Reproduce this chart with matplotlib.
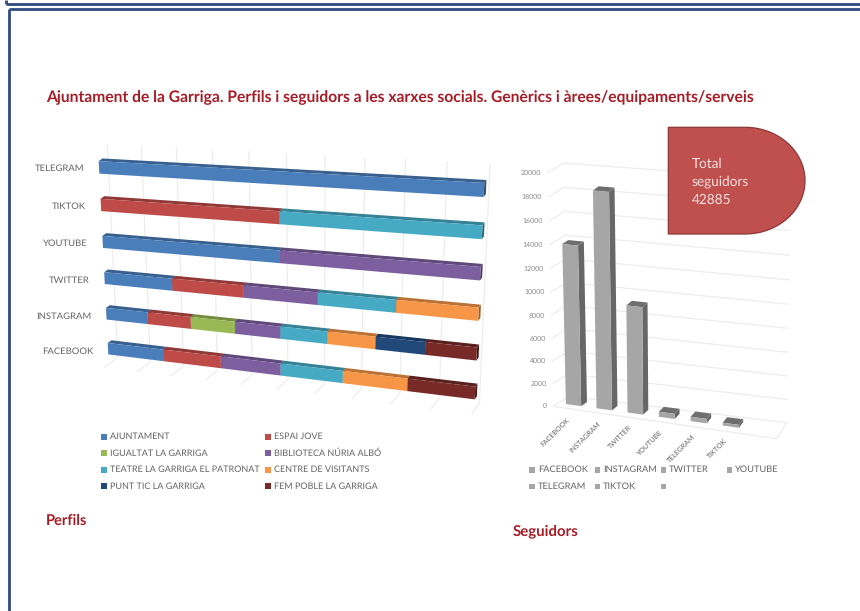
"""Social media profiles and followers of the Ajuntament de la Garriga, as two 3D-look bar charts."""

import matplotlib

matplotlib.use("Agg")
import matplotlib.pyplot as plt
import numpy as np
from matplotlib.colors import to_rgb
from matplotlib.patches import Polygon, Rectangle

plt.rcParams["font.family"] = ["Lato", "DejaVu Sans"]
plt.rcParams["text.hinting"] = "none"

# Profiles per network (100% stacked, one profile counts as one unit).
networks = ["FACEBOOK", "INSTAGRAM", "TWITTER", "YOUTUBE", "TIKTOK", "TELEGRAM"]
series_names = [
    "AJUNTAMENT",
    "ESPAI JOVE",
    "IGUALTAT LA GARRIGA",
    "BIBLIOTECA NÚRIA ALBÓ",
    "TEATRE LA GARRIGA EL PATRONAT",
    "CENTRE DE VISITANTS",
    "PUNT TIC LA GARRIGA",
    "FEM POBLE LA GARRIGA",
]
ajuntament = [1, 1, 1, 1, 0, 1]
espai_jove = [1, 1, 1, 0, 1, 0]
igualtat = [0, 1, 0, 0, 0, 0]
biblioteca = [1, 1, 1, 1, 0, 0]
teatre = [1, 1, 1, 0, 1, 0]
centre = [1, 1, 1, 0, 0, 0]
punt_tic = [0, 1, 0, 0, 0, 0]
fem_poble = [1, 1, 0, 0, 0, 0]
profile_series = [ajuntament, espai_jove, igualtat, biblioteca, teatre, centre, punt_tic, fem_poble]
series_colors = ["#4A7EBB", "#BE4B48", "#98B954", "#7D5FA0", "#46AAC5", "#F79646", "#20497A", "#772A28"]

# Followers per network; the source table has a trailing empty category.
follower_names = ["FACEBOOK", "INSTAGRAM", "TWITTER", "YOUTUBE", "TELEGRAM", "TIKTOK"]
followers = [13900, 18600, 9300, 450, 385, 250]
follower_ticks = list(range(0, 20001, 2000))
legend_names = ["FACEBOOK", "INSTAGRAM", "TWITTER", "YOUTUBE", "TELEGRAM", "TIKTOK", ""]

GRID = "#EDEDED"
LABEL = "#646464"
HEADING = "#A81C25"
NAVY = "#2F4A80"


class Perspective:
    """Projective map of (u, v) onto a screen quad, plus a depth shift along z."""

    def __init__(self, u_range, v_range, corners, depth_left, depth_right):
        self.u0, self.u1 = u_range
        self.v0, self.v1 = v_range
        self.depth_left = np.array(depth_left, float)
        self.depth_right = np.array(depth_right, float)
        # corners: (u0,v0), (u1,v0), (u1,v1), (u0,v1) on screen
        unit = [(0, 0), (1, 0), (1, 1), (0, 1)]
        rows, rhs = [], []
        for (s, t), (x, y) in zip(unit, corners):
            rows.append([s, t, 1, 0, 0, 0, -s * x, -t * x])
            rows.append([0, 0, 0, s, t, 1, -s * y, -t * y])
            rhs += [x, y]
        h = np.linalg.solve(np.array(rows, float), np.array(rhs, float))
        self.h = np.append(h, 1).reshape(3, 3)

    def __call__(self, u, v, z=0.0):
        s = (u - self.u0) / (self.u1 - self.u0)
        t = (v - self.v0) / (self.v1 - self.v0)
        x, y, w = self.h @ np.array([s, t, 1.0])
        depth = self.depth_left + (self.depth_right - self.depth_left) * s
        return np.array([x / w, y / w]) + z * depth


def shade(color, factor):
    return tuple(c * factor for c in to_rgb(color))


def draw_block(ax, proj, u0, u1, v0, v1, z0, z1, color, top=0.72, side=0.62, zorder=3):
    """Draw one box: end cap, top face and front face."""
    cap = [proj(u1, v0, z0), proj(u1, v0, z1), proj(u1, v1, z1), proj(u1, v1, z0)]
    lid = [proj(u0, v1, z0), proj(u0, v1, z1), proj(u1, v1, z1), proj(u1, v1, z0)]
    front = [proj(u0, v0, z0), proj(u1, v0, z0), proj(u1, v1, z0), proj(u0, v1, z0)]
    ax.add_patch(Polygon(cap, fc=shade(color, side), ec="none", zorder=zorder))
    ax.add_patch(Polygon(lid, fc=shade(color, top), ec="none", zorder=zorder))
    ax.add_patch(Polygon(front, fc=color, ec="none", zorder=zorder))


def grid_line(ax, points):
    pts = np.array(points)
    ax.plot(pts[:, 0], pts[:, 1], color=GRID, lw=0.9, zorder=1, solid_capstyle="butt")


def draw_profiles(ax):
    proj = Perspective(
        (0, 1), (0, 5),
        [(108, 348.7), (475, 393), (484, 190), (99, 167.4)],
        (14, -10), (8, -11),
    )
    z_floor, z_wall = -0.35, 0.65

    for i in range(11):
        u = i / 10
        grid_line(ax, [proj(u, -0.45, z_floor), proj(u, -0.45, z_wall), proj(u, 5.45, z_wall)])

    counts = np.array(profile_series, float)
    totals = counts.sum(axis=0)
    half = 0.165
    for row, name in enumerate(networks):
        left = 0.0
        for col, color in enumerate(series_colors):
            share = counts[col, row] / totals[row]
            if share == 0:
                continue
            draw_block(ax, proj, left, left + share, row - half, row + half, 0, 0.27, color,
                       top=0.76, side=0.62, zorder=3 + row * 0.01)
            left += share
        x, y = proj(0, row)
        ax.text(x - 15, y + 0.5 + (5 - row) * 0.5, name, ha="right", va="center", fontsize=6.8,
                color=LABEL, zorder=5)


def draw_followers(ax):
    n_slots = len(legend_names)
    proj = Perspective(
        (0, n_slots), (0, 20000),
        [(558.3, 403), (780, 433.4), (785, 190.7), (552.7, 169.7)],
        (16, -10), (10, -16),
    )
    z_floor, z_wall = -0.33, 0.67

    for value in follower_ticks:
        grid_line(ax, [proj(0, value, z_floor), proj(0, value, z_wall), proj(n_slots, value, z_wall)])
        x, y = proj(0, value, z_floor)
        ax.text(x - 6, y, str(value), ha="right", va="center", fontsize=5.0, color="#8A8A8A", zorder=5)
    grid_line(ax, [proj(0, 0, z_floor), proj(n_slots, 0, z_floor), proj(n_slots, 0, z_wall)])

    for i, (name, value) in enumerate(zip(follower_names, followers)):
        draw_block(ax, proj, i + 0.25, i + 0.75, 0, value, 0, 0.38, "#A6A6A6",
                   top=0.66, side=0.62, zorder=3 + i * 0.01)
        x, y = proj(i + 0.5, 0)
        ax.text(x - 7, y + 11, name, ha="right", va="top", rotation=45, rotation_mode="anchor",
                fontsize=5.0, color=LABEL, zorder=5)


def draw_total_badge(ax):
    # Flowchart "delay" shape: square on the left, half ellipse on the right.
    x0, x1, y0, y1 = 668.3, 805, 127.3, 234
    xc = 745
    yc = (y0 + y1) / 2
    angles = np.linspace(-np.pi / 2, np.pi / 2, 80)
    arc = np.column_stack([xc + (x1 - xc) * np.cos(angles), yc + (y1 - y0) / 2 * np.sin(angles)])
    outline = np.vstack([[x0, y0], arc, [x0, y1]])
    ax.add_patch(Polygon(outline, fc="#C0504D", ec="#8C3836", lw=0.9, zorder=6))
    ax.text(692, 181.5, f"Total\nseguidors\n{sum(followers)}", ha="left", va="center", fontsize=9.8,
            color="#F6E0DF", linespacing=1.5, zorder=7)


def draw_legend(ax, names, colors, xs, ys, fontsize):
    for i, name in enumerate(names):
        x = xs[i % len(xs)]
        y = ys[i // len(xs)]
        ax.add_patch(Rectangle((x - 2.8, y - 2.8), 5.6, 5.6, fc=colors[i], ec="none", zorder=4))
        ax.text(x + 6, y, name, ha="left", va="center", fontsize=fontsize, color=LABEL, zorder=4)


def draw_frame(ax):
    for y in (4, 9):
        ax.plot([5.5 if y == 4 else 8.5, 860], [y, y], color=NAVY, lw=2.0, zorder=8, solid_capstyle="butt")
    ax.plot([5.5, 5.5], [0, 4], color=NAVY, lw=2.0, zorder=8, solid_capstyle="butt")
    ax.plot([8.5, 8.5], [9, 611], color=NAVY, lw=2.0, zorder=8, solid_capstyle="butt")


def main():
    fig = plt.figure(figsize=(8.6, 6.11), dpi=100)
    ax = fig.add_axes([0, 0, 1, 1])
    ax.set_xlim(0, 860)
    ax.set_ylim(611, 0)
    ax.axis("off")

    draw_frame(ax)
    ax.text(46, 98, "Ajuntament de la Garriga. Perfils i seguidors a les xarxes socials. "
            "Genèrics i àrees/equipaments/serveis", ha="left", va="center", fontsize=11.25,
            fontweight="bold", color=HEADING)

    draw_profiles(ax)
    draw_followers(ax)
    draw_total_badge(ax)

    draw_legend(ax, series_names, series_colors, [104, 268], [436.7, 453, 469.7, 486], 6.5)
    draw_legend(ax, legend_names, ["#A6A6A6"] * len(legend_names), [531.7, 597.3, 663.3, 729.3], [469.7, 486.3], 6.7)

    ax.text(46, 521, "Perfils", ha="left", va="center", fontsize=10.5, fontweight="bold", color=HEADING)
    ax.text(513, 531, "Seguidors", ha="left", va="center", fontsize=10.8, fontweight="bold", color=HEADING)

    fig.savefig("out.png", dpi=100)
    plt.close(fig)


if __name__ == "__main__":
    main()
